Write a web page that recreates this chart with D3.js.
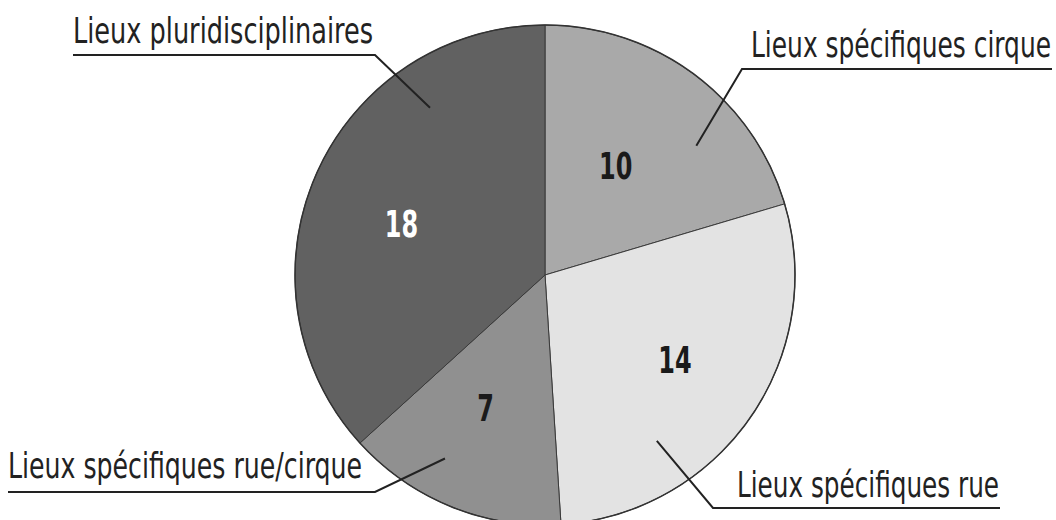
<!DOCTYPE html>
<html>
<head>
<meta charset="utf-8">
<script src="https://cdn.jsdelivr.net/npm/d3@7"></script>
<style>
  body { margin: 0; background: #fff; }
  svg { display: block; }
  text { font-family: "Liberation Sans Narrow", "DejaVu Sans Condensed", sans-serif; }
</style>
</head>
<body>
<svg id="chart" width="1056" height="520"></svg>
<script>
// data, clockwise from 12 o'clock
var categories = ["Lieux spécifiques cirque", "Lieux spécifiques rue", "Lieux spécifiques rue/cirque", "Lieux pluridisciplinaires"];
var values = [10, 14, 7, 18];
var colors = ["#a9a9a9", "#e3e3e3", "#909090", "#616161"];
var valueColors = ["#1a1a1a", "#1a1a1a", "#1a1a1a", "#ffffff"];

// value label nudges from the arc centroid (layout only)
var valueNudge = [[-16, 7], [11, 2], [-5, -2], [-11, 7]];

// callout layout: text anchor, underline span, leader tip (angle in deg, radius)
var callouts = [
    { tx: 751, ty: 57, tw: 300, lx0: 742, lx1: 1052, ly: 69, side: "left", ang: 49.5, rad: 199 },
    { tx: 737, ty: 497, tw: 262, lx0: 713, lx1: 1000, ly: 508, side: "left", ang: 146, rad: 200 },
    { tx: 8, ty: 478, tw: 354, lx0: 8, lx1: 375, ly: 492, side: "right", ang: 208.6, rad: 209 },
    { tx: 73, ty: 43, tw: 300, lx0: 73, lx1: 375, ly: 55, side: "right", ang: 325.5, rad: 203 }
];

var svg = d3.select("#chart");
var cx = 545, cy = 275, radius = 250;

var g = svg.append("g")
    .attr("transform", "translate(" + cx + "," + cy + ")");

var pie = d3.pie().sort(null).value(function(d) { return d; });
var arcs = pie(values);

var arc = d3.arc().innerRadius(0).outerRadius(radius);
var labelArc = d3.arc().innerRadius(145).outerRadius(145);

g.selectAll(".slice")
    .data(arcs)
    .enter()
    .append("path")
    .attr("class", "slice")
    .attr("d", arc)
    .style("fill", function(d, i) { return colors[i]; })
    .style("stroke", "#3a3a3a")
    .style("stroke-width", 1);

// outer rim
g.append("circle")
    .attr("r", radius)
    .style("fill", "none")
    .style("stroke", "#333")
    .style("stroke-width", 1.5);

// value labels (condensed by a horizontal squeeze)
g.selectAll(".val")
    .data(arcs)
    .enter()
    .append("text")
    .attr("class", "val")
    .attr("transform", function(d, i) {
        var p = labelArc.centroid(d);
        return "translate(" + (p[0] + valueNudge[i][0]) + "," + (p[1] + valueNudge[i][1]) + ") scale(0.72,1)";
    })
    .attr("text-anchor", "middle")
    .attr("dy", "0.36em")
    .style("font-size", "37px")
    .style("font-weight", "bold")
    .style("fill", function(d, i) { return valueColors[i]; })
    .text(function(d) { return d.data; });

// callouts
var cg = svg.append("g");
callouts.forEach(function(c, i) {
    var a = c.ang * Math.PI / 180;
    var tipX = cx + c.rad * Math.sin(a);
    var tipY = cy - c.rad * Math.cos(a);
    var elbowX = c.side === "left" ? c.lx0 : c.lx1;
    var otherX = c.side === "left" ? c.lx1 : c.lx0;

    cg.append("path")
        .attr("d", "M" + otherX + "," + c.ly + "L" + elbowX + "," + c.ly + "L" + tipX + "," + tipY)
        .style("fill", "none")
        .style("stroke", "#222")
        .style("stroke-width", 2);

    cg.append("text")
        .attr("x", c.tx)
        .attr("y", c.ty)
        .attr("textLength", c.tw)
        .attr("lengthAdjust", "spacingAndGlyphs")
        .style("font-size", "36px")
        .style("fill", "#222")
        .text(categories[i]);
});
</script>
</body>
</html>
